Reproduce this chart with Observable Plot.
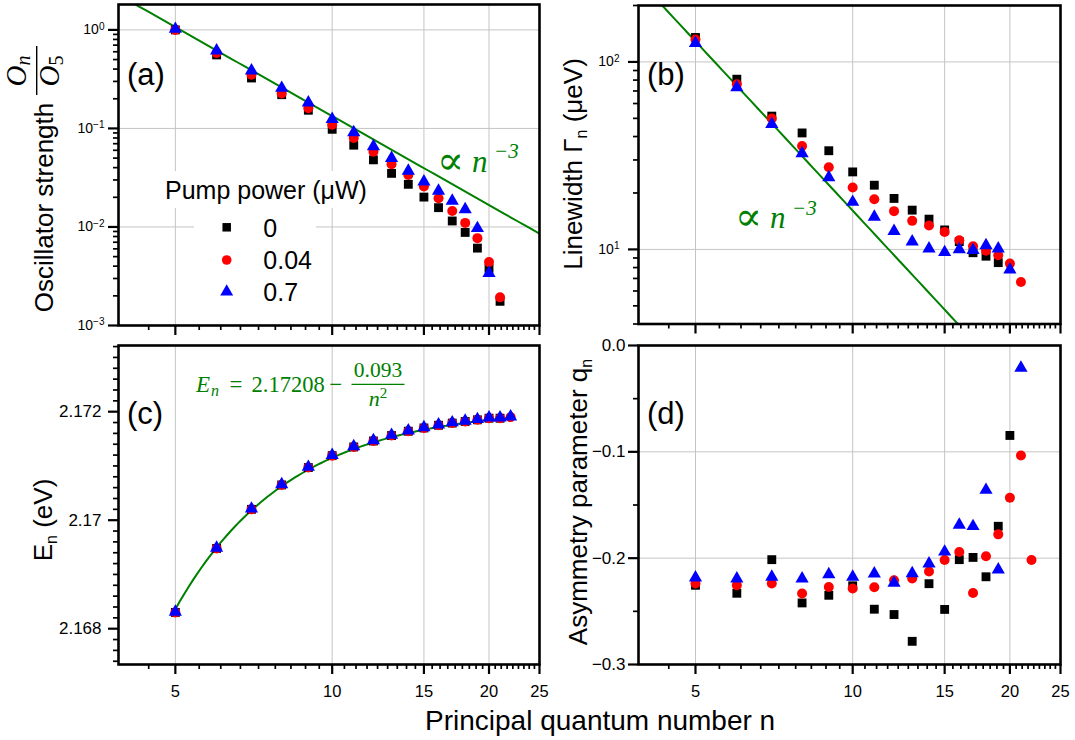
<!DOCTYPE html>
<html><head><meta charset="utf-8">
<script src="https://cdn.jsdelivr.net/npm/d3@7"></script>
<script src="https://cdn.jsdelivr.net/npm/@observablehq/plot@0.6"></script>
<style>
body{margin:0;background:#fff;}
#wrap{position:relative;width:1075px;height:740px;overflow:hidden;background:#fff;}
#wrap svg{position:absolute;left:0;top:0;}
</style></head><body><div id="wrap"></div>
<script>
// ---------- data ----------
const xTicks = [5, 10, 15, 20, 25];
const xTickLabels = ["5", "10", "15", "20", "25"];
const xGrid = [5, 10, 15, 20];
const xDomain = [3.889, 25];

// (a) oscillator strength O_n/O_5
const nBlackA = [5,6,7,8,9,10,11,12,13,14,15,16,17,18,19,20,21];
const oscBlack = [1.0,0.557,0.325,0.22,0.153,0.098,0.0676,0.048,0.035,0.0271,0.0201,0.0157,0.0115,0.0088,0.0061,0.0038,0.00176];
const nRedA = [5,6,7,8,9,10,11,12,13,14,15,16,17,18,19,20,21];
const oscRed = [1.0,0.583,0.351,0.226,0.16,0.109,0.08,0.058,0.0434,0.0337,0.0258,0.0196,0.0145,0.011,0.0077,0.0044,0.00193];
const nBlueA = [5,6,7,8,9,10,11,12,13,14,15,16,17,18,19,20];
const oscBlue = [1.02,0.616,0.386,0.257,0.183,0.124,0.0911,0.0656,0.05,0.0371,0.0288,0.0232,0.0184,0.0151,0.0097,0.0034];
const fitA = {coef: 133.5, exponent: -3};
const yTicksA = [1, 0.1, 0.01, 0.001];
const yTickLabelsA = ["10^0", "10^−1", "10^−2", "10^−3"];

// (b) linewidth (µeV)
const nBlackB = [5,6,7,8,9,10,11,12,13,14,15,16,17,18,19];
const lwBlack = [135,80.9,51.4,41.8,33.6,25.9,22.0,18.7,16.2,14.5,12.7,11.0,9.6,9.2,8.5];
const nRedB = [5,6,7,8,9,10,11,12,13,14,15,16,17,18,19,20,21];
const lwRed = [131.6,76.0,49.9,35.6,27.4,21.4,18.5,16.0,14.2,13.4,12.4,11.2,10.4,9.85,9.3,8.4,6.7];
const nBlueB = [5,6,7,8,9,10,11,12,13,14,15,16,17,18,19,20];
const lwBlue = [126,73.1,46.6,32.5,24.2,17.9,14.9,12.5,11.0,10.1,9.65,10.0,9.9,10.5,10.1,7.8];
const fitB = {coef: 16100, exponent: -3};
const yTicksB = [100, 10];
const yTickLabelsB = ["10^2", "10^1"];

// (c) energy (eV)
const nBlackC = [5,6,7,8,9,10,11,12,13,14,15,16,17,18,19,20,21];
const enBlack = [2.16830,2.16948,2.17020,2.17065,2.17097,2.17119,2.17135,2.17146,2.17156,2.17164,2.17170,2.17175,2.17179,2.17182,2.17185,2.17188,2.17188];
const nRedC = [5,6,7,8,9,10,11,12,13,14,15,16,17,18,19,20,21,22];
const enRed = [2.16830,2.16948,2.17020,2.17065,2.17097,2.17119,2.17135,2.17146,2.17156,2.17164,2.17170,2.17175,2.17179,2.17182,2.17185,2.17188,2.17188,2.17190];
const nBlueC = [5,6,7,8,9,10,11,12,13,14,15,16,17,18,19,20,21,22];
const enBlue = [2.16831,2.16949,2.17021,2.17066,2.17098,2.17120,2.17136,2.17147,2.17157,2.17165,2.17171,2.17176,2.17180,2.17183,2.17186,2.17189,2.17189,2.17191];
const fitC = {e0: 2.17208, ry: 0.093};
const yTicksC = [2.168, 2.17, 2.172];
const yTickLabelsC = ["2.168", "2.17", "2.172"];

// (d) asymmetry parameter q_n
const nBlackD = [5,6,7,8,9,10,11,12,13,14,15,16,17,18,19,20];
const qBlack = [-0.2255,-0.2330,-0.2014,-0.2421,-0.2349,-0.2260,-0.2480,-0.2530,-0.2782,-0.2240,-0.2482,-0.2014,-0.1993,-0.2175,-0.1700,-0.0846];
const nRedD = [5,6,7,8,9,10,11,12,13,14,15,16,17,18,19,20,21,22];
const qRed = [-0.2239,-0.2255,-0.2239,-0.2333,-0.2271,-0.2286,-0.2274,-0.2208,-0.2192,-0.2125,-0.2017,-0.1942,-0.2327,-0.1982,-0.1776,-0.1431,-0.1034,-0.2017];
const nBlueD = [5,6,7,8,9,10,11,12,13,14,15,16,17,18,19,21];
const qBlue = [-0.2183,-0.2192,-0.2177,-0.2192,-0.2152,-0.2177,-0.2146,-0.2232,-0.2143,-0.2052,-0.1940,-0.1687,-0.1700,-0.1359,-0.2108,-0.0210];
const yTicksD = [0, -0.1, -0.2, -0.3];
const yTickLabelsD = ["0.0", "−0.1", "−0.2", "−0.3"];

const seriesNames = ["0", "0.04", "0.7"];

// ---------- helpers ----------
const green = "#008000";
const sans = "'Liberation Sans', Arial, sans-serif";
const serif = "'Liberation Serif', 'DejaVu Serif', serif";
const gridColor = "#c4c4c4";
const rows = (ns, vs) => ns.map((n, i) => ({n, v: vs[i]}));

// minor x ticks: 8 per major interval of 5
const xMinor = [];
for (let base = 0; base < 25; base += 5)
  for (let j = 1; j <= 8; j++) {
    const v = base + 5 * j / 9;
    if (v >= xDomain[0] - 1e-6 && v <= xDomain[1]) xMinor.push(v);
  }
function logMinor(lo, hi) {
  const out = [];
  for (let e = -4; e <= 3; e++)
    for (let k = 2; k <= 9; k++) {
      const v = k * Math.pow(10, e);
      if (v >= lo && v <= hi) out.push(v);
    }
  return out;
}
const powerFit = (f, lo, hi) => d3.range(0, 61).map(i => {
  const n = lo * Math.pow(hi / lo, i / 60);
  return {n, v: f.coef * Math.pow(n, f.exponent)};
});

function makePanel(cfg) {
  const [l, r] = cfg.xr, [t, b] = cfg.yr;
  const marks = [];
  marks.push(Plot.gridX(xGrid, {stroke: gridColor, strokeOpacity: 1, strokeWidth: 1}));
  if (cfg.yGrid) marks.push(Plot.gridY(cfg.yGrid, {stroke: gridColor, strokeOpacity: 1, strokeWidth: 1}));
  if (cfg.fit) marks.push(Plot.line(cfg.fit, {x: "n", y: "v", stroke: green, strokeWidth: 2, clip: true}));
  for (const s of cfg.series)
    marks.push(Plot.dot(s.data, {x: "n", y: "v", symbol: s.symbol, fill: s.color, r: s.r, stroke: "none"}));
  marks.push(Plot.frame({stroke: "black", strokeWidth: 2.6}));
  marks.push(Plot.axisX(xMinor, {anchor: "bottom", tickSize: 5, strokeWidth: 1.7, tickFormat: () => "", label: null}));
  marks.push(Plot.axisX(xTicks, {anchor: "bottom", tickSize: 10, strokeWidth: 2.2, tickPadding: 11, fontSize: 16.5,
    tickFormat: cfg.xLabels ? (d => xTickLabels[xTicks.indexOf(d)]) : (() => ""), label: null}));
  marks.push(Plot.axisY(cfg.yMinor, {anchor: "left", tickSize: 5, strokeWidth: 1.7, tickFormat: () => "", label: null}));
  marks.push(Plot.axisY(cfg.yMajor, {anchor: "left", tickSize: 10, strokeWidth: 2.2, tickPadding: cfg.yPad, fontSize: cfg.yFont,
    tickFormat: d => cfg.yLabels[cfg.yMajor.indexOf(d)], label: null}));
  const svg = Plot.plot({
    width: 1075, height: 740,
    marginLeft: l, marginRight: 1075 - r, marginTop: t, marginBottom: 740 - b,
    style: {background: "transparent", fontFamily: sans, fontSize: "16px", color: "black", overflow: "visible"},
    x: {type: "log", domain: xDomain, label: null},
    y: {type: cfg.yType, domain: cfg.yDomain, label: null},
    marks
  });
  // superscript powers of ten
  d3.select(svg).selectAll("text").each(function () {
    const m = (this.textContent || "").match(/^10\^(.+)$/);
    if (m) {
      this.textContent = "10";
      d3.select(this).append("tspan").attr("dy", "-0.48em").attr("font-size", "0.72em").text(m[1]);
    }
  });
  return svg;
}

const mk = (data, i) => ({data, symbol: ["square", "circle", "triangle"][i], color: ["#000000", "#ff0000", "#0000ff"][i], r: i === 2 ? 4.9 : 5});

const wrap = document.getElementById("wrap");

wrap.appendChild(makePanel({
  xr: [118, 539], yr: [4, 325], yType: "log", yDomain: [0.001, 1.81],
  yMajor: yTicksA, yLabels: yTickLabelsA, yMinor: logMinor(0.001, 1.81), yGrid: [1, 0.1, 0.01],
  yPad: 4, yFont: 14, xLabels: false,
  fit: powerFit(fitA, xDomain[0], xDomain[1]),
  series: [mk(rows(nBlackA, oscBlack), 0), mk(rows(nRedA, oscRed), 1), mk(rows(nBlueA, oscBlue), 2)]
}));
wrap.appendChild(makePanel({
  xr: [638, 1060], yr: [5, 323.5], yType: "log", yDomain: [4, 200],
  yMajor: yTicksB, yLabels: yTickLabelsB, yMinor: logMinor(4, 200), yGrid: [100, 10],
  yPad: 9, yFont: 14, xLabels: false,
  fit: powerFit(fitB, xDomain[0], xDomain[1]),
  series: [mk(rows(nBlackB, lwBlack), 0), mk(rows(nRedB, lwRed), 1), mk(rows(nBlueB, lwBlue), 2)]
}));
const minorC = d3.range(21674, 21733, 2).map(v => v / 10000).filter(v => !yTicksC.some(t => Math.abs(t - v) < 1e-7));
wrap.appendChild(makePanel({
  xr: [118, 539], yr: [345, 664], yType: "linear", yDomain: [2.16734, 2.17322],
  yMajor: yTicksC, yLabels: yTickLabelsC, yMinor: minorC, yGrid: null,
  yPad: 7, yFont: 17, xLabels: true,
  fit: d3.range(5, 22.31, 0.1).map(n => ({n, v: fitC.e0 - fitC.ry / (n * n)})),
  series: [mk(rows(nBlackC, enBlack), 0), mk(rows(nRedC, enRed), 1), mk(rows(nBlueC, enBlue), 2)]
}));
wrap.appendChild(makePanel({
  xr: [638, 1060], yr: [345, 664], yType: "linear", yDomain: [-0.3, 0],
  yMajor: yTicksD, yLabels: yTickLabelsD, yMinor: [-0.05, -0.15, -0.25], yGrid: [-0.1, -0.2],
  yPad: 3, yFont: 17, xLabels: true, fit: null,
  series: [mk(rows(nBlackD, qBlack), 0), mk(rows(nRedD, qRed), 1), mk(rows(nBlueD, qBlue), 2)]
}));

// ---------- overlay: titles, labels, legend, annotations ----------
const ov = d3.create("svg").attr("width", 1075).attr("height", 740)
  .attr("font-family", sans).style("pointer-events", "none");

function vtext(x, y, size, build) {
  const t = ov.append("text").attr("transform", `translate(${x},${y}) rotate(-90)`)
    .attr("text-anchor", "middle").attr("font-size", size);
  build(t);
  return t;
}
// (a) y title
vtext(52.5, 207.5, 26, t => t.text("Oscillator strength"));
vtext(25.5, 71, 29, t => {
  t.attr("font-family", serif);
  t.append("tspan").attr("font-style", "italic").text("O");
  t.append("tspan").attr("font-style", "italic").attr("font-size", 20).attr("dy", 4).text("n");
});
ov.append("line").attr("x1", 36.7).attr("x2", 36.7).attr("y1", 46).attr("y2", 95).attr("stroke", "black").attr("stroke-width", 1.4);
vtext(59, 71, 29, t => {
  t.attr("font-family", serif);
  t.append("tspan").attr("font-style", "italic").text("O");
  t.append("tspan").attr("font-size", 20).attr("dy", 4).text("5");
});
// (b) y title
vtext(582, 164, 26, t => {
  t.append("tspan").text("Linewidth Γ");
  t.append("tspan").attr("font-size", 16).attr("dy", 5).text("n");
  t.append("tspan").attr("dy", -5).text(" (μeV)");
});
// (c) y title
vtext(51.5, 520, 26, t => {
  t.append("tspan").text("E");
  t.append("tspan").attr("font-size", 16).attr("dy", 5).text("n");
  t.append("tspan").attr("dy", -5).text(" (eV)");
});
// (d) y title
vtext(586.5, 502, 26, t => {
  t.append("tspan").text("Asymmetry parameter q");
  t.append("tspan").attr("font-size", 16).attr("dy", 5).text("n");
});
// x title
ov.append("text").attr("x", 425).attr("y", 730).attr("font-size", 28).text("Principal quantum number n");

// panel labels
[["(a)", 127, 85], ["(b)", 647, 85], ["(c)", 127, 423.5], ["(d)", 647, 423.5]].forEach(([s, x, y]) =>
  ov.append("text").attr("x", x).attr("y", y).attr("font-size", 31).text(s));

// legend
ov.append("rect").attr("x", 163).attr("y", 171).attr("width", 210).attr("height", 37).attr("fill", "white");
ov.append("rect").attr("x", 194).attr("y", 208).attr("width", 122).attr("height", 98).attr("fill", "white");
ov.append("text").attr("x", 165).attr("y", 199.3).attr("font-size", 25).text("Pump power (μW)");
const legSym = [d3.symbolSquare, d3.symbolCircle, d3.symbolTriangle];
const legCol = ["#000000", "#ff0000", "#0000ff"];
const legY = [227.3, 260, 291.7];
seriesNames.forEach((name, i) => {
  ov.append("path").attr("d", d3.symbol(legSym[i], Math.PI * 23)())
    .attr("transform", `translate(226.7,${legY[i]})`).attr("fill", legCol[i]);
  ov.append("text").attr("x", 263.3).attr("y", legY[i] + 9.2).attr("font-size", 25).text(name);
});

// ∝ n^-3 annotations
function propto(x, y) {
  const g = ov.append("g").attr("fill", green);
  g.append("text").attr("x", x - 2).attr("y", y + 2).attr("font-size", 40).attr("font-family", "'DejaVu Serif', serif").text("∝");
  g.append("text").attr("x", x + 33).attr("y", y).attr("font-size", 31).attr("font-family", serif).attr("font-style", "italic").text("n");
  g.append("text").attr("x", x + 55).attr("y", y - 13.5).attr("font-size", 21).attr("font-family", serif).attr("font-style", "italic").text("−3");
}
propto(439, 171.7);
propto(737, 228.3);

// equation in (c)
{
  const g = ov.append("g").attr("fill", green).attr("font-family", serif);
  g.append("text").attr("x", 196).attr("y", 391.5).attr("font-size", 23).attr("font-style", "italic").text("E");
  g.append("text").attr("x", 211).attr("y", 395.5).attr("font-size", 16).attr("font-style", "italic").text("n");
  g.append("text").attr("x", 236).attr("y", 391.5).attr("font-size", 23).attr("text-anchor", "middle").text("=");
  g.append("text").attr("x", 251.5).attr("y", 391.5).attr("font-size", 22.5).text("2.17208");
  g.append("text").attr("x", 335.7).attr("y", 391.5).attr("font-size", 23).attr("text-anchor", "middle").text("−");
  g.append("text").attr("x", 378).attr("y", 376.5).attr("font-size", 21.5).attr("text-anchor", "middle").text("0.093");
  g.append("line").attr("x1", 351.5).attr("x2", 404.5).attr("y1", 384.3).attr("y2", 384.3).attr("stroke", green).attr("stroke-width", 1.2);
  const den = g.append("text").attr("x", 378).attr("y", 406).attr("font-size", 22).attr("text-anchor", "middle");
  den.append("tspan").attr("font-style", "italic").text("n");
  den.append("tspan").attr("font-size", 15).attr("dy", -8).text("2");
}

wrap.appendChild(ov.node());
</script></body></html>
